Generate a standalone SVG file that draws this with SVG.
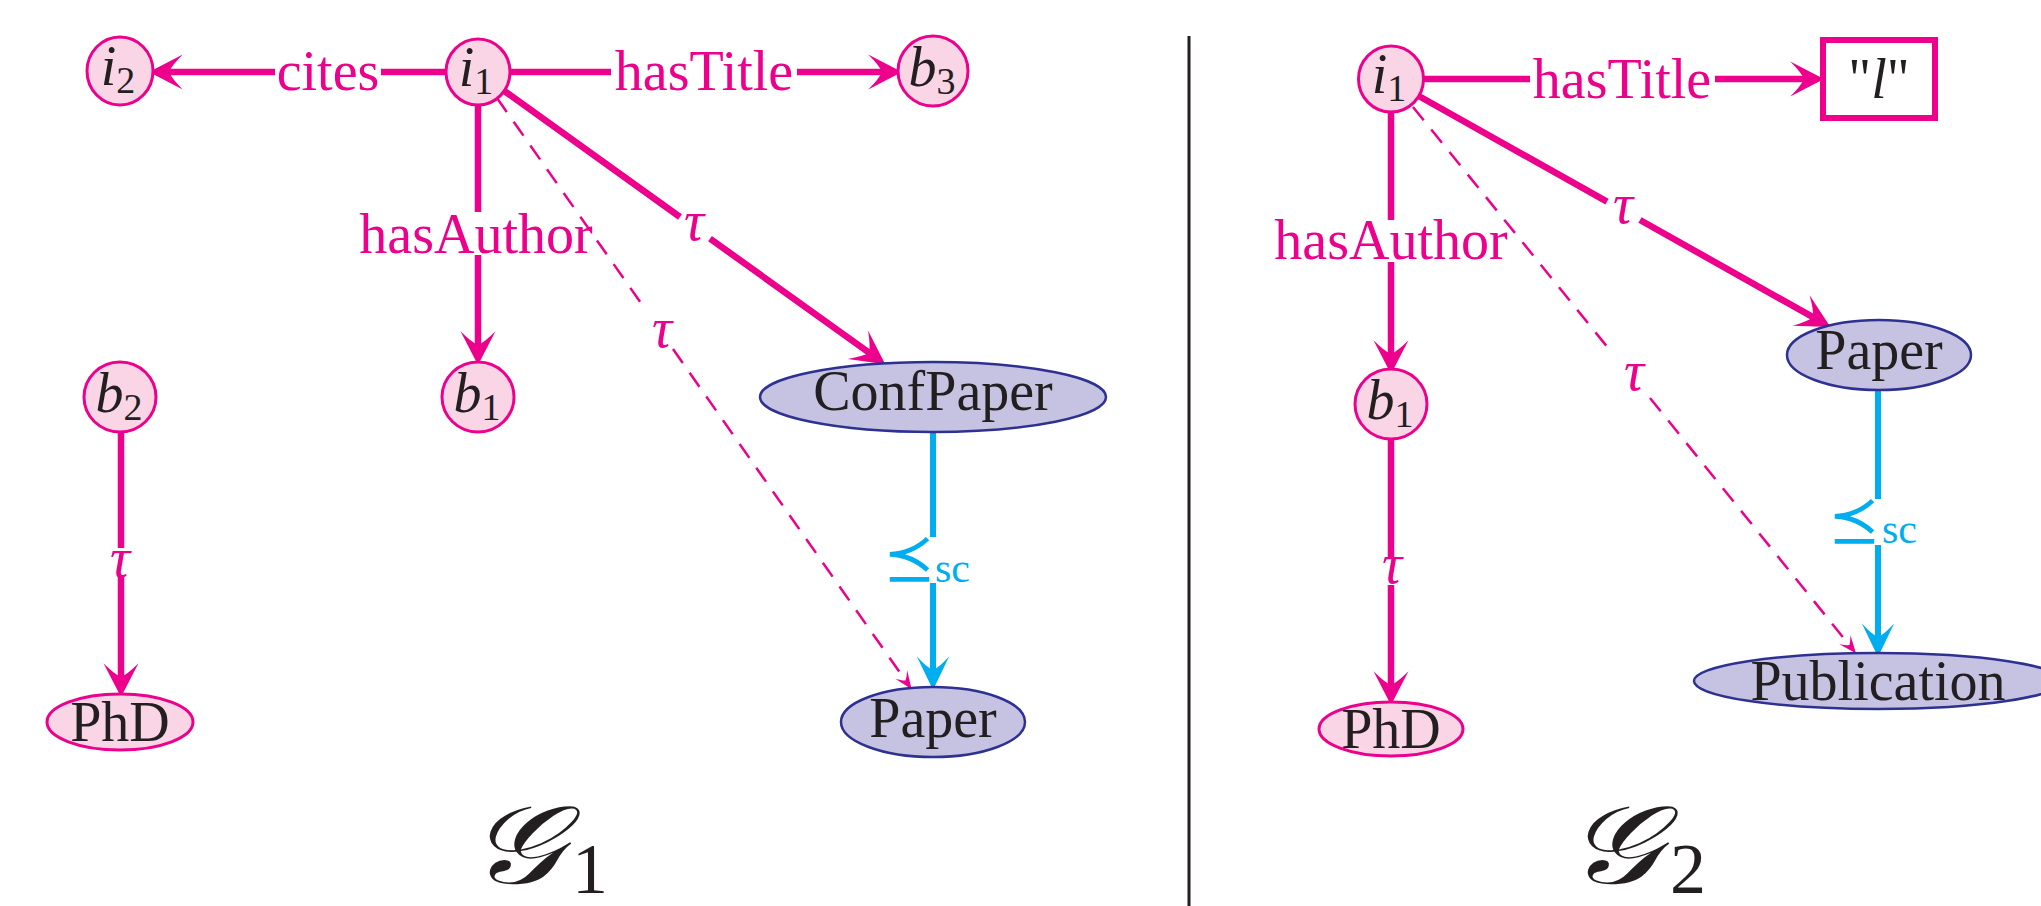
<svg xmlns="http://www.w3.org/2000/svg" width="2041" height="906" viewBox="0 0 2041 906">
  <style>
    .pk { stroke: #EC008C; stroke-width: 6.5; fill: none; }
    .dash { stroke: #EC008C; stroke-width: 2.5; stroke-dasharray: 17 12; fill: none; }
    .cy { stroke: #00AEEF; stroke-width: 6; fill: none; }
    .inst ellipse { fill: #F9D5E6; stroke: #EC008C; stroke-width: 3; }
    .cls ellipse { fill: #C5C3E1; stroke: #2E3192; stroke-width: 2.5; }
    .lit rect { fill: #FFFFFF; stroke: #EC008C; stroke-width: 6; }
    .lbl { font-family: "Liberation Serif", serif; font-size: 56px; fill: #EC008C; text-anchor: middle; }
    .tau { font-style: italic; }
    .nt { font-family: "Liberation Serif", serif; font-size: 56px; fill: #231F20; text-anchor: middle; }
    .sub { font-size: 38px; font-style: normal; }
    .sc { font-family: "Liberation Serif", serif; font-size: 42px; fill: #00AEEF; }
    .prec { font-family: "DejaVu Math TeX Gyre", "DejaVu Serif", "DejaVu Sans", serif; font-size: 60px; fill: #00AEEF; text-anchor: end; }
    .gname { font-family: "DejaVu Serif", "DejaVu Sans", "Liberation Serif", serif; font-size: 110px; fill: #231F20; }
    .gsub { font-family: "Liberation Serif", serif; font-size: 72px; fill: #231F20; }
  </style>
  <defs>
    <marker id="arr" markerUnits="userSpaceOnUse" markerWidth="40" markerHeight="40" viewBox="-14 -16 32 32" refX="0" refY="0" orient="auto">
      <path d="M16,0 L-11,-14 Q-2,-5 0,0 Q-2,5 -11,14 Z" fill="#EC008C"/>
    </marker>
    <marker id="arrC" markerUnits="userSpaceOnUse" markerWidth="40" markerHeight="40" viewBox="-14 -16 32 32" refX="0" refY="0" orient="auto">
      <path d="M16,0 L-11,-13 Q-2,-5 0,0 Q-2,5 -11,13 Z" fill="#00AEEF"/>
    </marker>
    <marker id="arrS" markerUnits="userSpaceOnUse" markerWidth="24" markerHeight="24" viewBox="-8 -9 20 18" refX="0" refY="0" orient="auto">
      <path d="M9,0 L-6,-6 Q-1,-2 0,0 Q-1,2 -6,6 Z" fill="#EC008C"/>
    </marker>
  </defs>

  <!-- separator between the two graphs -->
  <line x1="1189" y1="36" x2="1189" y2="906" stroke="#231F20" stroke-width="3"/>

  <!-- connectors -->
  <g id="connectors">
    <!-- graph 1 -->
    <path class="pk" d="M446,72 H381 M275,72 H169" marker-end="url(#arr)"/>
    <path class="pk" d="M510,72 H611 M797,72 H882" marker-end="url(#arr)"/>
    <path class="pk" d="M478,105 V212 M478,255 V345" marker-end="url(#arr)"/>
    <path class="pk" d="M503,90 L680,217 M710,238.6 L869,352.7" marker-end="url(#arr)"/>
    <path class="dash" d="M497,98 L643,306 M673,349 L905.4,680.4" marker-end="url(#arrS)"/>
    <path class="pk" d="M121,431 V548 M121,577 V677" marker-end="url(#arr)"/>
    <path class="cy" d="M933,432 V537 M933,583 V670" marker-end="url(#arrC)"/>
    <!-- graph 2 -->
    <path class="pk" d="M1423,79 H1530 M1715,79 H1804" marker-end="url(#arr)"/>
    <path class="pk" d="M1391,112 V220 M1391,262 V354" marker-end="url(#arr)"/>
    <path class="pk" d="M1417,95 L1607,201.6 M1640,220 L1813,317.2" marker-end="url(#arr)"/>
    <path class="dash" d="M1413,107 L1613,354 M1650,398 L1849.3,645" marker-end="url(#arrS)"/>
    <path class="pk" d="M1391,439 V557 M1391,585 V685" marker-end="url(#arr)"/>
    <path class="cy" d="M1878,390 V499 M1878,545 V637" marker-end="url(#arrC)"/>
  </g>

  <!-- edge labels -->
  <g id="edge-labels">
    <text class="lbl" x="328" y="90">cites</text>
    <text class="lbl" x="704" y="90">hasTitle</text>
    <text class="lbl" x="476" y="253">hasAuthor</text>
    <text class="lbl tau" x="694" y="240">τ</text>
    <text class="lbl tau" x="662" y="347">τ</text>
    <text class="lbl tau" x="120" y="577">τ</text>
    <text class="prec" x="934" y="576">⪯</text>
    <text class="sc" x="935" y="582">sc</text>

    <text class="lbl" x="1622" y="98">hasTitle</text>
    <text class="lbl" x="1391" y="259">hasAuthor</text>
    <text class="lbl tau" x="1623" y="223">τ</text>
    <text class="lbl tau" x="1634" y="390">τ</text>
    <text class="lbl tau" x="1392" y="583">τ</text>
    <text class="prec" x="1879" y="538">⪯</text>
    <text class="sc" x="1882" y="543">sc</text>
  </g>

  <!-- graph 1 nodes -->
  <g id="g1-i2" class="inst">
    <ellipse cx="120" cy="71" rx="33" ry="34"/>
    <text class="nt" x="118" y="85"><tspan font-style="italic">i</tspan><tspan class="sub" dy="8">2</tspan></text>
  </g>
  <g id="g1-i1" class="inst">
    <ellipse cx="478" cy="72" rx="32" ry="33"/>
    <text class="nt" x="476" y="86"><tspan font-style="italic">i</tspan><tspan class="sub" dy="8">1</tspan></text>
  </g>
  <g id="g1-b3" class="inst">
    <ellipse cx="933" cy="71" rx="35" ry="35"/>
    <text class="nt" x="932" y="86"><tspan font-style="italic">b</tspan><tspan class="sub" dy="8">3</tspan></text>
  </g>
  <g id="g1-b1" class="inst">
    <ellipse cx="478" cy="397" rx="36" ry="35"/>
    <text class="nt" x="477" y="412"><tspan font-style="italic">b</tspan><tspan class="sub" dy="8">1</tspan></text>
  </g>
  <g id="g1-b2" class="inst">
    <ellipse cx="120" cy="397" rx="36" ry="35"/>
    <text class="nt" x="119" y="412"><tspan font-style="italic">b</tspan><tspan class="sub" dy="8">2</tspan></text>
  </g>
  <g id="g1-phd" class="inst">
    <ellipse cx="120" cy="722" rx="73" ry="28"/>
    <text class="nt" x="120" y="741">PhD</text>
  </g>
  <g id="g1-confpaper" class="cls">
    <ellipse cx="933" cy="397" rx="173" ry="35"/>
    <text class="nt" x="933" y="410">ConfPaper</text>
  </g>
  <g id="g1-paper" class="cls">
    <ellipse cx="933" cy="722" rx="92" ry="35"/>
    <text class="nt" x="933" y="737">Paper</text>
  </g>
  <!-- graph names: script G, slightly widened -->
  <g id="g1-name">
    <text class="gname" transform="translate(468,883) scale(1.2,1)" font-style="italic">𝒢</text>
    <text class="gsub" x="572" y="893">1</text>
  </g>

  <!-- graph 2 nodes -->
  <g id="g2-i1" class="inst">
    <ellipse cx="1391" cy="79" rx="32.5" ry="33"/>
    <text class="nt" x="1389" y="93"><tspan font-style="italic">i</tspan><tspan class="sub" dy="8">1</tspan></text>
  </g>
  <g id="g2-title" class="lit">
    <rect x="1823" y="40" width="112" height="78"/>
    <text class="nt" x="1879" y="98">"<tspan font-style="italic">l</tspan>"</text>
  </g>
  <g id="g2-b1" class="inst">
    <ellipse cx="1391" cy="404" rx="36" ry="35"/>
    <text class="nt" x="1390" y="419"><tspan font-style="italic">b</tspan><tspan class="sub" dy="8">1</tspan></text>
  </g>
  <g id="g2-phd" class="inst">
    <ellipse cx="1391" cy="729" rx="72" ry="27"/>
    <text class="nt" x="1391" y="748">PhD</text>
  </g>
  <g id="g2-paper" class="cls">
    <ellipse cx="1879" cy="355" rx="92" ry="35"/>
    <text class="nt" x="1879" y="369">Paper</text>
  </g>
  <g id="g2-publication" class="cls">
    <ellipse cx="1878" cy="681" rx="184" ry="28"/>
    <text class="nt" x="1878" y="700">Publication</text>
  </g>
  <g id="g2-name">
    <text class="gname" transform="translate(1566,883) scale(1.2,1)" font-style="italic">𝒢</text>
    <text class="gsub" x="1670" y="893">2</text>
  </g>
</svg>
